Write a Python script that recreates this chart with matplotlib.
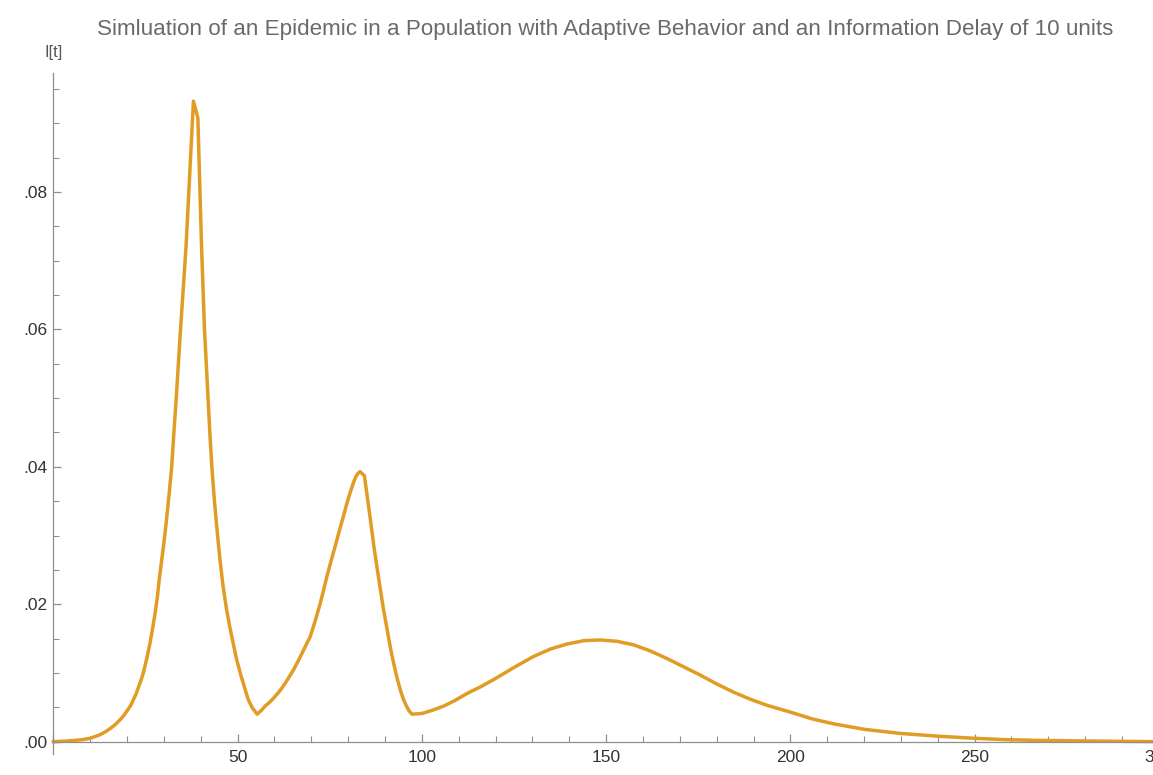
import matplotlib
matplotlib.use("Agg")
import matplotlib.pyplot as plt
from matplotlib.ticker import MultipleLocator, FuncFormatter

# valores
t = [0, 4, 8, 10, 12.6, 14, 15.4, 16.8, 18.1, 19.1, 20, 20.9, 21.7, 22.4, 23,
     23.7, 24.4, 25.3, 26.2, 26.9, 27.6, 28.2, 28.7, 29.4, 30.0, 30.6, 31.4,
     32.1, 32.7, 33.3, 34.5, 36.0, 37.0, 38.0, 39.2, 40.2, 41.0, 42.0, 42.5,
     43.0, 43.7, 44.5, 45.2, 46.0, 47.0, 47.9, 48.8, 49.7, 50.7, 51.8, 52.9,
     54.0, 55.3, 56.5, 57.5, 58.6, 59.7, 61, 62.0, 63.5, 65.1, 66.3, 67.5,
     68.6, 69.7, 71, 72.4, 73.3, 74.2, 75.3, 76.5, 77.6, 78.7, 79.6, 80.5,
     81.3, 82.0, 82.6, 83.2, 84.4, 85.1, 85.9, 87.0, 88.2, 89.5, 90.9, 91.7,
     92.5, 93.3, 94.1, 94.9, 95.7, 96.5, 97.3, 100, 103, 106, 109, 112.2, 116,
     120, 125, 130.3, 135, 139.3, 144, 148.4, 153, 157.4, 162, 166.5, 171,
     175.5, 180, 184.6, 189, 193.6, 200, 206, 211.7, 220, 229.8, 240, 249.7,
     258, 266, 280, 300]
infected = [0.0, 0.0001, 0.0003, 0.0005, 0.0010, 0.0014, 0.0019, 0.0025, 0.0032,
            0.0038, 0.0045, 0.0052, 0.0061, 0.0069, 0.0078, 0.0088, 0.0100,
            0.0120, 0.0143, 0.0164, 0.0187, 0.0210, 0.0235, 0.0265, 0.0290,
            0.0318, 0.0360, 0.0400, 0.0450, 0.0497, 0.0600, 0.0721, 0.0826,
            0.0932, 0.0908, 0.0721, 0.0600, 0.0497, 0.0445, 0.0400, 0.0350,
            0.0303, 0.0265, 0.0228, 0.0192, 0.0166, 0.0143, 0.0120, 0.0100,
            0.0080, 0.0061, 0.0049, 0.0040, 0.0046, 0.0052, 0.0057, 0.0063,
            0.0071, 0.0078, 0.0090, 0.0104, 0.0116, 0.0129, 0.0141, 0.0153,
            0.0175, 0.0201, 0.0220, 0.0240, 0.0262, 0.0285, 0.0307, 0.0328,
            0.0346, 0.0362, 0.0375, 0.0385, 0.0390, 0.0393, 0.0387, 0.0360,
            0.0328, 0.0283, 0.0240, 0.0195, 0.0153, 0.0130, 0.0110, 0.0092,
            0.0076, 0.0063, 0.0053, 0.0045, 0.0040, 0.0041, 0.0046, 0.0052,
            0.0060, 0.0070, 0.0080, 0.0092, 0.0108, 0.0124, 0.0135, 0.0142,
            0.0147, 0.0148, 0.0146, 0.0141, 0.0132, 0.0121, 0.0109, 0.0097,
            0.0084, 0.0072, 0.0062, 0.0053, 0.0043, 0.0033, 0.0026, 0.0018,
            0.0012, 0.0008, 0.0005, 0.0003, 0.0002, 0.0001, 0.0]

titulo = "Simluation of an Epidemic in a Population with Adaptive Behavior and an Information Delay of 10 units"

plt.rcParams['font.family'] = ['Liberation Sans', 'DejaVu Sans']

fig = plt.figure(figsize=(11.53, 7.75), dpi=100)
ax = fig.add_axes([53.4 / 1153, 21.3 / 775, (1158.9 - 53.4) / 1153, 680.7 / 775])

ax.plot(t, infected, color='#E09C24', lw=2.5, clip_on=False)

ax.set_xlim(0, 300)
ax.set_ylim(-0.00175, 0.0973)

axis_gray = '#8f8f8f'
for s in ['top', 'right']:
    ax.spines[s].set_visible(False)
ax.spines['bottom'].set_position(('data', 0))
ax.spines['bottom'].set_color(axis_gray)
ax.spines['left'].set_color(axis_gray)
ax.spines['bottom'].set_linewidth(0.9)
ax.spines['left'].set_linewidth(0.9)

ax.xaxis.set_major_locator(MultipleLocator(50))
ax.xaxis.set_minor_locator(MultipleLocator(10))
ax.yaxis.set_major_locator(MultipleLocator(0.02))
ax.yaxis.set_minor_locator(MultipleLocator(0.005))
ax.yaxis.set_major_formatter(FuncFormatter(lambda v, p: f"{v:.2f}".replace("0.", ".", 1)))
ax.xaxis.set_major_formatter(FuncFormatter(lambda v, p: "" if v == 0 else f"{v:.0f}"))

ax.tick_params(which='major', direction='in', length=6, width=0.9, color=axis_gray,
               labelsize=12.5, labelcolor='#333333')
ax.tick_params(which='minor', direction='in', length=4, width=0.8, color=axis_gray)
ax.tick_params(axis='x', which='major', pad=6)
ax.tick_params(axis='y', which='major', pad=4)

fig.text(605 / 1153, 1 - 29 / 775, titulo, ha='center', va='center',
         fontsize=16.1, color='#6a6a6a')
fig.text(54 / 1153, 1 - 53 / 775, "I[t]", ha='center', va='center',
         fontsize=12, color='#555555')

fig.savefig("out.png", dpi=100)
